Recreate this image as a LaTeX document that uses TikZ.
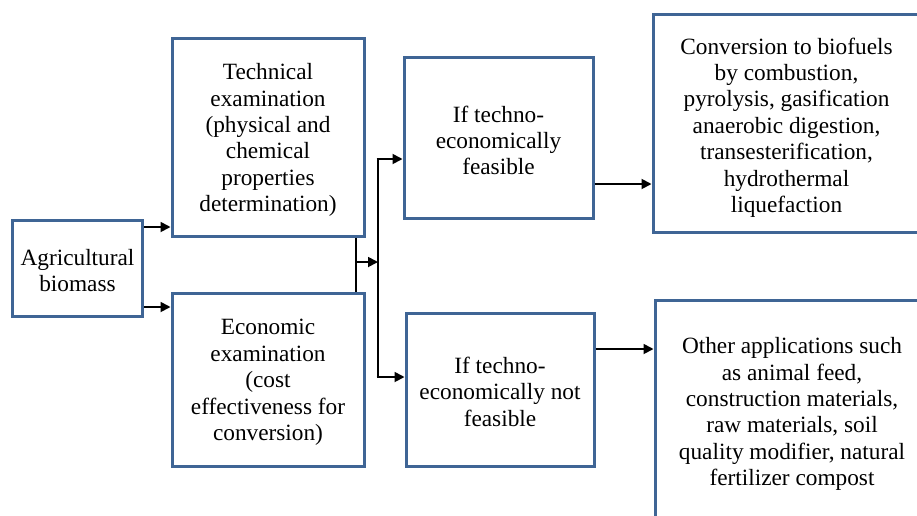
\documentclass[tikz,border=0pt]{standalone}
\usepackage{fontspec}
\setmainfont{Liberation Serif}
\usetikzlibrary{arrows.meta}
\definecolor{boxblue}{HTML}{3F6595}
\begin{document}
\begin{tikzpicture}[x=1pt,y=-1pt,
  box/.style={draw=boxblue,line width=3pt,fill=white,inner sep=0pt},
  txt/.style={inner sep=0pt,align=center,font=\fontsize{23.3}{26.4}\selectfont},
  arr/.style={line width=1.8pt,-{Triangle[length=10pt,width=10pt]}},
  bar/.style={line width=2.6pt}]
\useasboundingbox (0,0) rectangle (917,515);
\begin{scope}
\clip (0,0) rectangle (917,515);
\node[box,minimum width=130,minimum height=96] (agri) at (77.5,268.5) {};
\node[box,minimum width=192,minimum height=198] (tech) at (268,137) {};
\node[box,minimum width=192,minimum height=173] (econ) at (268,379.5) {};
\node[box,minimum width=189,minimum height=161] (feas) at (498.5,137.5) {};
\node[box,minimum width=188,minimum height=153] (notf) at (500,389.5) {};
\node[box,minimum width=267,minimum height=218] (conv) at (786.5,123) {};
\node[box,minimum width=274,minimum height=224] (other) at (792,412) {};
\end{scope}
\node[txt] (agri-t) at ([yshift=-2pt]agri) {Agricultural\\biomass};
\node[txt] (tech-t) at ([yshift=-3pt]tech) {Technical\\examination\\(physical and\\chemical\\properties\\determination)};
\node[txt] (econ-t) at ([yshift=-3pt]econ) {Economic\\examination\\(cost\\effectiveness for\\conversion)};
\node[txt] (feas-t) at ([yshift=-3pt]feas) {If techno-\\economically\\feasible};
\node[txt] (notf-t) at ([yshift=-2pt]notf) {If techno-\\economically not\\feasible};
\node[txt] (conv-t) at ([yshift=-4.5pt]conv) {Conversion to biofuels\\by combustion,\\pyrolysis, gasification\\anaerobic digestion,\\transesterification,\\hydrothermal\\liquefaction};
\node[txt] (other-t) at ([yshift=-2pt]other) {Other applications such\\as animal feed,\\construction materials,\\raw materials, soil\\quality modifier, natural\\fertilizer compost};
\coordinate (j) at (356,262);
\coordinate (bt) at (378,159);
\coordinate (bb) at (378,377);
\coordinate (bm) at (378,262);
\draw[arr] (agri.east |- 0,227) -- (tech.west |- 0,227);
\draw[arr] (agri.east |- 0,307) -- (econ.west |- 0,307);
\draw[line width=1.8pt] (tech.south -| j) -- (econ.north -| j);
\draw[arr] (j) -- (bm);
\draw[bar] (bt) -- (bb);
\draw[arr] ([xshift=-1.3pt]bt) -- (feas.west |- bt);
\draw[arr] ([xshift=-1.3pt]bb) -- (notf.west |- bb);
\draw[arr] (feas.east |- 0,184) -- (conv.west |- 0,184);
\draw[arr] (notf.east |- 0,349) -- (other.west |- 0,349);
\end{tikzpicture}
\end{document}
